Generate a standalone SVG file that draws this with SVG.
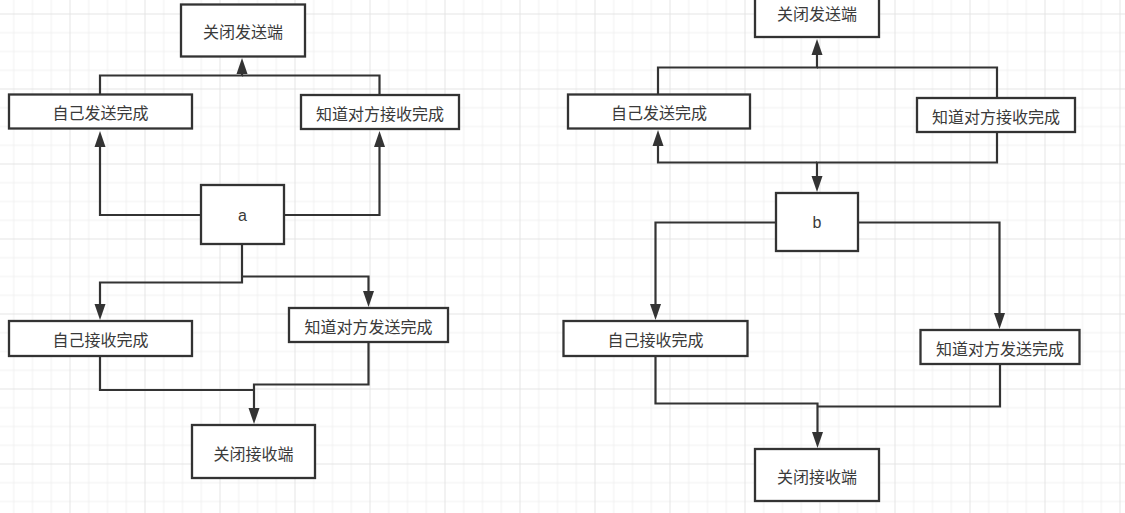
<svg xmlns="http://www.w3.org/2000/svg" width="1125" height="513" viewBox="0 0 1125 513">
<defs>
<pattern id="grid" patternUnits="userSpaceOnUse" x="69.5" y="13.5" width="75" height="75">
<rect width="75" height="75" fill="#ffffff"/>
<g fill="#f1f1f1">
<rect x="18.75" y="0" width="1" height="75"/>
<rect x="37.5" y="0" width="1" height="75"/>
<rect x="56.25" y="0" width="1" height="75"/>
<rect x="0" y="18.75" width="75" height="1"/>
<rect x="0" y="37.5" width="75" height="1"/>
<rect x="0" y="56.25" width="75" height="1"/>
</g>
<g fill="#e4e4e4">
<rect x="0" y="0" width="1" height="75"/>
<rect x="0" y="0" width="75" height="1"/>
</g>
</pattern>
<marker id="arr" markerUnits="userSpaceOnUse" viewBox="0 0 16 12" markerWidth="16" markerHeight="12" refX="6" refY="6" orient="auto">
<path d="M0,0.5 L16,6 L0,11.5 Z" fill="#333333"/>
</marker>
</defs>
<style>
.box{fill:#ffffff;stroke:#333333;stroke-width:2.3}
.lbl{font-family:"Noto Sans CJK SC","Noto Sans",sans-serif;font-size:16px;fill:#3a3a3a;text-anchor:middle;dominant-baseline:central}
.con{fill:none;stroke:#333333;stroke-width:2.2}
</style>
<rect x="0" y="0" width="1125" height="513" fill="url(#grid)"/>

<g id="connectors">
<path class="con" d="M100,94 V75.5 H242 V68" marker-end="url(#arr)"/>
<path class="con" d="M379.5,95 V75.5 H242"/>
<path class="con" d="M201,215 H100 V141" marker-end="url(#arr)"/>
<path class="con" d="M284,215 H379.5 V141" marker-end="url(#arr)"/>
<path class="con" d="M242,245 V282.5 H100 V310" marker-end="url(#arr)"/>
<path class="con" d="M242,276.5 H368.5 V297" marker-end="url(#arr)"/>
<path class="con" d="M100,357 V390 H254"/>
<path class="con" d="M368.5,343 V384.5 H254 V414" marker-end="url(#arr)"/>

<path class="con" d="M658,94 V67.5 H817 V49" marker-end="url(#arr)"/>
<path class="con" d="M997,98 V67.5 H817"/>
<path class="con" d="M997,133 V162.5 H817 V182" marker-end="url(#arr)"/>
<path class="con" d="M817,162.5 H658 V140" marker-end="url(#arr)"/>
<path class="con" d="M776,222.5 H655.5 V310" marker-end="url(#arr)"/>
<path class="con" d="M858,222.5 H999.5 V319" marker-end="url(#arr)"/>
<path class="con" d="M655.5,357 V403.5 H817.5 V438" marker-end="url(#arr)"/>
<path class="con" d="M1000,365 V406.5 H817.5"/>
</g>

<g id="a-close-send"><rect class="box" x="181" y="4.5" width="124" height="52"/><text class="lbl" x="243" y="31">关闭发送端</text></g>
<g id="a-self-send-done"><rect class="box" x="9" y="94.5" width="183" height="34"/><text class="lbl" x="100.5" y="112">自己发送完成</text></g>
<g id="a-know-peer-recv-done"><rect class="box" x="301" y="95" width="158" height="34"/><text class="lbl" x="380" y="112.5">知道对方接收完成</text></g>
<g id="a-node"><rect class="box" x="201" y="185" width="83" height="59"/><text class="lbl" x="242.5" y="215" style="font-family:'Liberation Sans',sans-serif">a</text></g>
<g id="a-self-recv-done"><rect class="box" x="9" y="321" width="183" height="35"/><text class="lbl" x="100.5" y="339">自己接收完成</text></g>
<g id="a-know-peer-send-done"><rect class="box" x="289" y="308" width="159" height="34"/><text class="lbl" x="368.5" y="325.5">知道对方发送完成</text></g>
<g id="a-close-recv"><rect class="box" x="192" y="425" width="123" height="53"/><text class="lbl" x="253.5" y="452.5">关闭接收端</text></g>

<g id="b-close-send"><rect class="box" x="755" y="-15" width="124" height="52"/><text class="lbl" x="817" y="13">关闭发送端</text></g>
<g id="b-self-send-done"><rect class="box" x="568" y="94.5" width="182" height="34"/><text class="lbl" x="659" y="112">自己发送完成</text></g>
<g id="b-know-peer-recv-done"><rect class="box" x="917" y="98" width="158" height="34"/><text class="lbl" x="996" y="115.5">知道对方接收完成</text></g>
<g id="b-node"><rect class="box" x="776" y="193" width="82" height="58"/><text class="lbl" x="817" y="222" style="font-family:'Liberation Sans',sans-serif">b</text></g>
<g id="b-self-recv-done"><rect class="box" x="563.5" y="321" width="184" height="35"/><text class="lbl" x="655.5" y="339">自己接收完成</text></g>
<g id="b-know-peer-send-done"><rect class="box" x="920.5" y="330" width="159" height="34"/><text class="lbl" x="1000" y="347.5">知道对方发送完成</text></g>
<g id="b-close-recv"><rect class="box" x="755" y="449" width="124" height="52"/><text class="lbl" x="817" y="476">关闭接收端</text></g>
</svg>
